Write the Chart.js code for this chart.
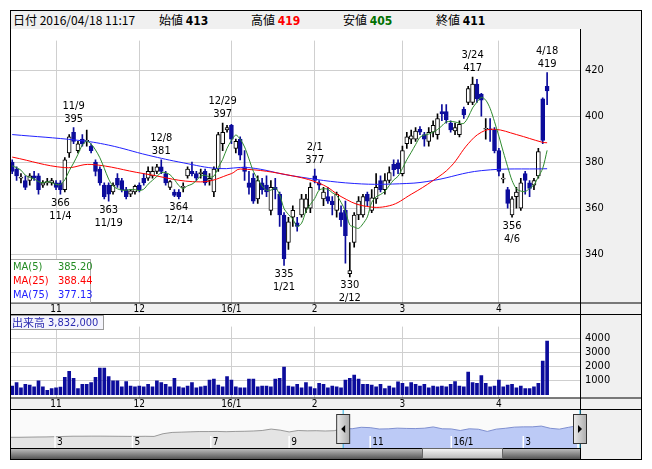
<!DOCTYPE html>
<html><head><meta charset="utf-8">
<script src="https://cdn.jsdelivr.net/npm/chart.js@4"></script>
<style>
body{margin:0;width:652px;height:469px;background:#fff;font-family:'Noto Sans CJK JP',sans-serif;position:relative;overflow:hidden}
.abs{position:absolute}
#frame{left:10px;top:10px;width:632px;height:450px;border:1px solid #000;box-sizing:border-box;pointer-events:none;z-index:9}
#hdr{left:10px;top:10px;width:632px;height:20px;background:#f0f0f0;border:1px solid #000;box-sizing:border-box;font-size:12px;line-height:18px;white-space:nowrap}
#hdr span{position:absolute;top:0}
#hdr b{font-family:'DejaVu Sans Condensed','DejaVu Sans',sans-serif;font-size:12px}
#leg{left:10px;top:259px;width:81px;height:44px;border:1px solid #aaa;box-sizing:border-box;background:#fff;font-family:'DejaVu Sans Condensed','DejaVu Sans',sans-serif;font-size:11px;line-height:14px}
#leg div{position:relative;height:14px}
#leg span{position:absolute}
#vlab{left:10px;top:315px;width:94px;height:15px;border:1px solid #999;box-sizing:border-box;background:#f4f4fc;font-size:11px;line-height:13px;color:#2a2ab0;white-space:nowrap}
</style></head><body>
<div id="hdr" class="abs">
<span style="left:2px">日付 2016/04/18 11:17</span>
<span style="left:148px">始値 <b style="color:#000">413</b></span>
<span style="left:240px">高値 <b style="color:#f00">419</b></span>
<span style="left:332px">安値 <b style="color:#007000">405</b></span>
<span style="left:425px">終値 <b style="color:#000">411</b></span>
</div>
<div class="abs" style="left:10px;top:29px;width:632px;height:286px"><canvas id="main"></canvas></div>
<div class="abs" style="left:10px;top:315px;width:632px;height:95px"><canvas id="vol"></canvas></div>
<div class="abs" style="left:10px;top:410px;width:632px;height:38px"><canvas id="nav"></canvas></div>
<div class="abs" style="left:10px;top:448px;width:570px;height:11px;background:linear-gradient(#bbb,#555);border-top:1px solid #000;box-sizing:border-box"></div>
<div class="abs" style="left:422px;top:448px;width:81px;height:11px;background:linear-gradient(#f4f4f4,#bbb);border:1px solid #666;box-sizing:border-box"></div>
<div class="abs" style="left:580px;top:448px;width:62px;height:11px;background:#f0f0f0;border-left:1px solid #000;box-sizing:border-box"></div>
<div id="leg" class="abs">
<div style="color:#228b22"><span style="left:2px">MA(5)</span><span style="left:47px">385.20</span></div>
<div style="color:#f00"><span style="left:2px">MA(25)</span><span style="left:47px">388.44</span></div>
<div style="color:#22f"><span style="left:2px">MA(75)</span><span style="left:47px">377.13</span></div>
</div>
<div id="vlab" class="abs"><span style="position:absolute;left:1px">出来高</span><span style="position:absolute;left:37px;font-family:'DejaVu Sans Condensed','DejaVu Sans',sans-serif">3,832,000</span></div>
<div id="frame" class="abs"></div>
<script>
// ---- data ----
const daysOct=[19,20,21,22,23,26,27,28,29,30];
const daysNov=[2,4,5,6,9,10,11,12,13,16,17,18,19,20,24,25,26,27,30];
const daysDec=[1,2,3,4,7,8,9,10,11,14,15,16,17,18,21,22,24,25,28,29,30];
const daysJan=[4,5,6,7,8,12,13,14,15,18,19,20,21,22,25,26,27,28,29];
const daysFeb=[1,2,3,4,5,8,9,10,12,15,16,17,18,19,22,23,24,25,26,29];
const daysMar=[1,2,3,4,7,8,9,10,11,14,15,16,17,18,22,23,24,25,28,29,30,31];
const daysApr=[1,4,5,6,7,8,11,12,13,14,15,18];
const monthTicks={'11/2':'11','12/1':'12','1/4':'16/1','2/1':'2','3/1':'3','4/1':'4'};
const emptySlots=7;
const openP=[380,377,373,372,372,374,374,370,371,371,371,371,368,384,393,385,390,389,387,380,377,370,370,367,373,372,368,366,367,370,373,373,374,376,378,375,369,367,367,369,374,376,375,375,376,372,367,377,388,394,396,386,390,378,371,373,364,371,370,359,369,366,357,345,356,353.6,357,360,360,374,371,364,365,363,359,358,359,331.5,345,357,357,366,359,364,372,368,372,379,379.7,375,388,390,390,394.3,392,389,393,392,402,402,397,393.6,392,403,406,406,414,409.6,394.3,394.5,394,385,372.6,368,357,365,360,375,371,370,374,407.5,413];
const highP=[381,378,375,374,375,376,375,372,373,373,372,372,382,392,395,389,392,394,388,381,378,371,371,371,375,373,369,368,370,371,375,378,378,379,381,376,372,368,368,371,378,380,376,377,377,375,378,393,397,396,396.5,390,391,385,376,375,374,373,374,372,373,367,358,356,361,356,366,366,371,377,372,369,369,365,367,361,363,345,358,365,366,367,368,375,374,375,378,381,381,387,393,394,395,395.5,393,395,398,401,405,405,398,397,398,404,413,417,416,410,399,399,395,386,375,369,365,369,373,376,372,373,386,408,419];
const lowP=[375,372,371,368,370,372,366,369,370,370,368,366,367,382,388,384,387,387,384,374,370,364,363,366,369,367,364,365,366,367,370,372,373,375,375,370,368,365,364,367,373,374,372,373,370,370,365,376,385,393,388,384,381,372,366,362,362,366,365,357,364,352,335,342,352,350,356,358,358,371,368,361,362,357,356,352,336,330,343,355,356,361,358,362,367,366,371,374,375,374,386,388,389,392,387,387,391,390,398,397,393,392,391,399,405,405,406,400,390,389,384,374,371,360,356,360,359,366,365,368,373,388,405];
const closeP=[376,374,373.5,369,374,373,368,371,371.5,372,369,368,381,391,389,388,388,389.5,385,376,371,365,366,370,370,368,365,367.5,369.5,368,371,376,376,378,376,371,371.5,365.5,365,369.5,377,375,373,375.5,371,373,377,392,393,395,390,389,383,376,369,363,372,368,367,369,368,357,338,354,359,352,364,364,369,372,370,367,363,361.5,366,355,348,332.8,357,363,365,363,364.5,369,368,372,375.5,376.7,377,385,391,391.5,393.5,393,390,393,396,399,401,398.5,394,395,396.4,400.5,412,414,407.5,407,394.5,394,385,376,373,362,364,367,371,372,368.6,372,384.6,389.4,411];
const priorClose=[378,379,380,379];
const volume=[610,860,490,730,670,550,980,550,300,420,480,540,1230,1660,1160,420,730,730,850,1230,1900,1900,1290,980,980,550,920,610,550,610,550,730,550,980,850,730,550,1160,550,480,610,850,490,550,610,1040,1100,670,550,1290,1040,550,480,480,1100,1100,550,610,610,550,1100,1160,1970,610,550,730,490,850,550,420,800,730,490,610,550,490,1040,1160,1400,1100,730,730,670,550,730,420,610,490,910,800,550,860,730,610,730,490,610,550,610,550,730,920,610,550,1600,860,800,1350,800,550,610,1040,550,670,730,490,610,430,430,550,800,2400,3832];
const ma25Dates=['10/19','11/5','11/13','12/2','12/21','1/4','1/6','1/25','2/3','2/9','2/17','2/25','3/3','3/10','3/16','3/23','3/28','3/31','4/7','4/15','4/18'];
const ma25Vals=[382.2,377.6,379,375,371.4,375,377,374,370,365,361,361,366,372,378,388,393,394.3,392,388.6,388.44];
const ma75Dates=['10/19','11/10','11/19','12/3','12/15','12/28','1/8','1/25','2/15','3/2','3/10','3/28','4/18'];
const ma75Vals=[392,389.5,387.4,383,379.7,377.2,377.6,374,370.7,370.7,372,376.3,377.13];
const priceTicks=[340,360,380,400,420];
const volTicks=[1000,2000,3000,4000];
const annDates=['11/9','12/8','12/29','2/1','3/24','4/18','11/4','11/19','12/14','1/21','2/12','4/6'];
const annVals=[395,381,397,377,417,419,366,363,364,335,330,356];
const annHigh=[true,true,true,true,true,true,false,false,false,false,false,false];
const navVals=[250,250,252,254,255,258,262,265,265,266,266,265,264,263,262,264,262,300,318,322,326,330,330,332,328,332,334,338,345,365,350,325,345,340,342,338,342,372,370,390,385,366,368,378,374,372,377,395,369,367,345,369,363,332,364,376,392,396,396,407,376,364,389,411];
const navSelStart=37;
const navTicks=[[5,'3'],[13.6,'5'],[22.3,'7'],[31,'9'],[40,'11'],[49,'16/1'],[57,'3']];

// ---- build ----
const labels=[];
[[10,daysOct],[11,daysNov],[12,daysDec],[1,daysJan],[2,daysFeb],[3,daysMar],[4,daysApr]].forEach(([m,ds])=>ds.forEach(d=>labels.push(m+'/'+d)));
const N=labels.length;
for(let i=0;i<emptySlots;i++)labels.push(' '.repeat(i+1));
const allC=priorClose.concat(closeP);
const ma5=closeP.map((c,i)=>{let s=0;for(let k=0;k<5;k++)s+=allC[i+4-k];return s/5;});
const NAVY='#0c0c9c';
const up=closeP.map((c,i)=>c>=openP[i]);
const narrow="'DejaVu Sans Condensed','DejaVu Sans',sans-serif";
const gridCol=(ctx)=>{const l=labels[ctx.index];return monthTicks[l]?'#cfcfcf':'rgba(0,0,0,0)';};
function xScaleOpts(){return{type:'category',offset:true,grid:{offset:false,color:gridCol,drawTicks:false},border:{display:false},
 ticks:{autoSkip:false,maxRotation:0,padding:1,font:{family:narrow,size:10},color:'#000',callback:(v,i)=>monthTicks[labels[i]]||''},
 afterFit:s=>{s.height=12.5;}};}
const bgPlugin={id:'bg',beforeDraw(ch){const c=ch.ctx,a=ch.chartArea;c.save();c.fillStyle='#fff';c.fillRect(0,0,ch.width,ch.height);
 c.fillStyle='#f0f0f0';c.fillRect(a.right,0,ch.width-a.right,ch.height);c.fillRect(0,a.bottom,a.right,ch.height-a.bottom);c.restore();},
 afterDraw(ch){const c=ch.ctx,a=ch.chartArea;c.save();c.strokeStyle='#000';c.lineWidth=1;c.beginPath();
 c.moveTo(a.left,a.bottom+0.5);c.lineTo(ch.width,a.bottom+0.5);c.moveTo(a.left,ch.height-0.5);c.lineTo(ch.width,ch.height-0.5);
 c.moveTo(a.right+0.5,0);c.lineTo(a.right+0.5,ch.height);c.stroke();c.restore();}};
const annPlugin={id:'ann',afterDatasetsDraw(ch){const c=ch.ctx,xs=ch.scales.x,ys=ch.scales.y;c.save();c.fillStyle='#000';c.font='11px '+narrow;c.textAlign='center';
 annDates.forEach((d,k)=>{const x=xs.getPixelForValue(labels.indexOf(d));const y=ys.getPixelForValue(annVals[k]);
  if(annHigh[k]){c.textBaseline='bottom';c.fillText(String(annVals[k]),x,y-3);c.fillText(d,x,y-16);}
  else{c.textBaseline='top';c.fillText(String(annVals[k]),x,y+3);c.fillText(d,x,y+16);}});c.restore();}};

new Chart(document.getElementById('main'),{type:'bar',
 data:{labels,datasets:[
  {type:'line',data:ma5,borderColor:'#2e8b2e',borderWidth:1,pointRadius:0,tension:0.3,order:0},
  {type:'line',data:ma25Dates.map((d,i)=>({x:d,y:ma25Vals[i]})),borderColor:'#f00',borderWidth:1,pointRadius:0,tension:0.4,order:0},
  {type:'line',data:ma75Dates.map((d,i)=>({x:d,y:ma75Vals[i]})),borderColor:'#22f',borderWidth:1,pointRadius:0,tension:0.4,order:0},
  {data:closeP.map((c,i)=>[openP[i],c]),grouped:false,barThickness:4,minBarLength:1,borderSkipped:false,borderWidth:1,
   backgroundColor:up.map(u=>u?'#fff':NAVY),borderColor:up.map(u=>u?'#000':NAVY),order:1},
  {data:closeP.map((c,i)=>[lowP[i],highP[i]]),grouped:false,barThickness:1,borderWidth:0,backgroundColor:up.map(u=>u?'#000':NAVY),order:2}
 ]},
 options:{responsive:true,maintainAspectRatio:false,animation:false,layout:{padding:0},
  plugins:{legend:{display:false},tooltip:{enabled:false}},
  scales:{x:xScaleOpts(),
   y:{position:'right',min:318.9,max:432.9,afterBuildTicks:s=>{s.ticks=priceTicks.map(v=>({value:v}));},
    grid:{color:'#cfcfcf',drawTicks:false},border:{display:false},ticks:{padding:5,font:{family:narrow,size:11},color:'#000',callback:v=>String(v)},afterFit:s=>{s.width=62;}}}},
 plugins:[bgPlugin,annPlugin]});

new Chart(document.getElementById('vol'),{type:'bar',
 data:{labels,datasets:[{data:volume,backgroundColor:NAVY,barThickness:3,borderWidth:0}]},
 options:{responsive:true,maintainAspectRatio:false,animation:false,layout:{padding:0},
  plugins:{legend:{display:false},tooltip:{enabled:false}},
  scales:{x:xScaleOpts(),
   y:{position:'right',min:-210,max:4860,afterBuildTicks:s=>{s.ticks=volTicks.map(v=>({value:v}));},
    grid:{color:'#cfcfcf',drawTicks:false},border:{display:false},ticks:{padding:5,font:{family:narrow,size:11},color:'#000',callback:v=>String(v)},afterFit:s=>{s.width=62;}}}},
 plugins:[bgPlugin]});

const navPlugin={id:'navp',beforeDraw(ch){const c=ch.ctx,a=ch.chartArea;c.save();c.fillStyle='#fafafa';c.fillRect(0,0,ch.width,ch.height);c.fillStyle='#f0f0f0';c.fillRect(a.right,0,ch.width-a.right,ch.height);c.restore();},
 afterDraw(ch){const c=ch.ctx,a=ch.chartArea,xs=ch.scales.x;c.save();
  c.font='10px '+narrow;c.fillStyle='#000';c.textBaseline='bottom';c.textAlign='left';
  navTicks.forEach(([w,t])=>{const x=xs.getPixelForValue(w);c.strokeStyle='#fff';c.lineWidth=1.5;c.beginPath();c.moveTo(x,a.bottom-12);c.lineTo(x,a.bottom);c.stroke();c.fillText(t,x+2,a.bottom-1);});
  c.strokeStyle='#000';c.lineWidth=1;c.beginPath();c.moveTo(a.right+0.5,0);c.lineTo(a.right+0.5,ch.height);c.stroke();
  [xs.getPixelForValue(navSelStart),a.right].forEach(x=>{c.strokeStyle='#2ab0e0';c.beginPath();c.moveTo(x,0);c.lineTo(x,ch.height);c.stroke();
   const g=c.createLinearGradient(x-7,0,x+7,0);g.addColorStop(0,'#eee');g.addColorStop(1,'#aaa');c.fillStyle=g;c.fillRect(x-6.5,4.5,13,29);c.strokeStyle='#333';c.strokeRect(x-6.5,4.5,13,29);});
  const lx=xs.getPixelForValue(navSelStart),rx=a.right;c.fillStyle='#000';
  c.beginPath();c.moveTo(lx-2,19);c.lineTo(lx+2,15);c.lineTo(lx+2,23);c.fill();
  c.beginPath();c.moveTo(rx+2,19);c.lineTo(rx-2,15);c.lineTo(rx-2,23);c.fill();
  c.restore();}};
new Chart(document.getElementById('nav'),{type:'line',
 data:{datasets:[
  {data:navVals.slice(0,navSelStart+1).map((v,i)=>({x:i,y:v})),borderColor:'#999',borderWidth:1,backgroundColor:'#e4e4e4',fill:'start',pointRadius:0},
  {data:navVals.slice(navSelStart).map((v,i)=>({x:i+navSelStart,y:v})),borderColor:'#8090d0',borderWidth:1,backgroundColor:'#bccaf6',fill:'start',pointRadius:0}]},
 options:{responsive:true,maintainAspectRatio:false,animation:false,layout:{padding:{right:62}},
  plugins:{legend:{display:false},tooltip:{enabled:false}},
  scales:{x:{type:'linear',min:0,max:63.3,display:false},y:{min:100,max:632,display:false}}},
 plugins:[navPlugin]});
</script>
</body></html>
